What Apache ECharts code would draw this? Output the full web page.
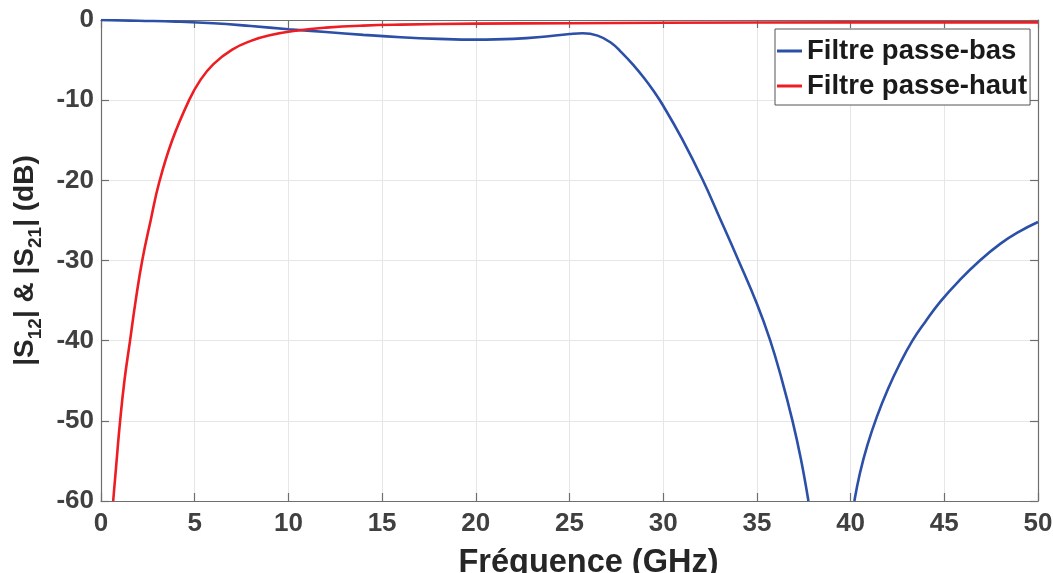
<!DOCTYPE html>
<html>
<head>
<meta charset="utf-8">
<script src="https://cdn.jsdelivr.net/npm/echarts@6/dist/echarts.min.js"></script>
<style>html,body{margin:0;padding:0;background:#fff;}#c{width:1053px;height:573px;}</style>
</head>
<body>
<div id="c"></div>
<script>
// Frequency ticks (GHz) and dB ticks
const xTicks = [0, 5, 10, 15, 20, 25, 30, 35, 40, 45, 50];
const yTicks = [-60, -50, -40, -30, -20, -10, 0];

// Low-pass filter, first branch (before the notch)
const lpX1 = [0, 2, 4, 6, 8, 10, 12, 14, 16, 18, 20, 22, 24, 25, 25.7, 26.5, 27.2, 27.8, 28.4, 29.0, 29.5, 30.0, 31.0, 32.1, 33.0, 34.0, 35.0, 35.7, 36.3, 36.9, 37.35, 37.75];
const lpY1 = [0, -0.1, -0.2, -0.4, -0.75, -1.15, -1.5, -1.85, -2.15, -2.35, -2.45, -2.35, -2.0, -1.75, -1.65, -1.95, -2.8, -4.1, -5.6, -7.3, -8.9, -10.7, -14.8, -19.9, -24.6, -29.9, -35.4, -39.9, -44.6, -50.0, -54.8, -60];
// Low-pass filter, second branch (after the notch)
const lpX2 = [40.2, 40.5, 40.9, 41.4, 42.0, 42.6, 43.3, 44.0, 44.8, 45.8, 46.9, 48.0, 49.0, 50];
const lpY2 = [-60, -56.5, -53, -49.5, -46, -43, -40, -37.6, -35.1, -32.5, -30.0, -27.9, -26.4, -25.2];

// High-pass filter
const hpX = [0.65, 0.85, 1.0, 1.25, 1.55, 1.85, 2.2, 2.65, 3.1, 3.8, 4.7, 5.3, 6.0, 7.0, 8.0, 9.0, 10.5, 12, 14, 16, 20, 25, 30, 40, 50];
const hpY = [-60, -54.5, -50.5, -45, -40, -35, -30, -25, -20.3, -15, -10, -7.5, -5.5, -3.7, -2.6, -1.9, -1.3, -0.95, -0.7, -0.58, -0.45, -0.4, -0.35, -0.3, -0.3];

const seriesNames = ['Filtre passe-bas', 'Filtre passe-haut'];
const FONT = '"Liberation Sans", Arial, sans-serif';

const zip = (xs, ys) => xs.map((x, i) => [x, ys[i]]);

const chart = echarts.init(document.getElementById('c'), null, {renderer: 'canvas'});
const axisLineStyle = {color: '#6e6e6e', width: 1.2};
const lineCommon = {type: 'line', smooth: 0.45, showSymbol: false, symbol: 'none', clip: true};
chart.setOption({
  animation: false,
  backgroundColor: '#fff',
  grid: {left: 101, right: 15, top: 20, bottom: 72, containLabel: false, outerBoundsMode: 'none'},
  legend: {
    data: seriesNames,
    orient: 'vertical',
    left: 775, top: 29,
    padding: [7, 3, 4, 2],
    itemGap: 5,
    itemWidth: 25, itemHeight: 3,
    icon: 'rect',
    backgroundColor: '#fff',
    borderColor: '#555', borderWidth: 1,
    textStyle: {fontFamily: FONT, fontSize: 27.5, fontWeight: 'bold', color: '#1a1a1a', lineHeight: 30}
  },
  xAxis: [{
    type: 'value', min: xTicks[0], max: xTicks[xTicks.length - 1], interval: xTicks[1] - xTicks[0],
    position: 'bottom',
    name: 'Fréquence (GHz)', nameLocation: 'middle', nameGap: 46,
    nameTextStyle: {fontFamily: FONT, fontSize: 32.5, fontWeight: 'bold', color: '#262626', padding: [0, 0, 0, 38]},
    axisLine: {show: true, onZero: false, lineStyle: axisLineStyle},
    axisTick: {show: true, inside: true, length: 8, lineStyle: axisLineStyle},
    axisLabel: {fontFamily: FONT, fontSize: 26, fontWeight: 'bold', color: '#404040', margin: 10},
    splitLine: {show: true, lineStyle: {color: '#e6e6e6', width: 1}}
  }, {
    type: 'value', min: xTicks[0], max: xTicks[xTicks.length - 1], interval: xTicks[1] - xTicks[0],
    position: 'top',
    axisLine: {show: true, onZero: false, lineStyle: axisLineStyle},
    axisTick: {show: true, inside: true, length: 8, lineStyle: axisLineStyle},
    axisLabel: {show: false},
    splitLine: {show: false}
  }],
  yAxis: [{
    type: 'value', min: yTicks[0], max: yTicks[yTicks.length - 1], interval: yTicks[1] - yTicks[0],
    position: 'left',
    name: '{m||S}{s|12}{m|| & |S}{s|21}{m|| (dB)}',
    nameLocation: 'middle', nameRotate: 90, nameGap: 53,
    nameTextStyle: {
      fontFamily: FONT, fontWeight: 'bold', color: '#262626',
      rich: {
        m: {fontFamily: FONT, fontSize: 28, fontWeight: 'bold', color: '#262626', lineHeight: 40, verticalAlign: 'middle'},
        s: {fontFamily: FONT, fontSize: 19, fontWeight: 'bold', color: '#262626', lineHeight: 19, verticalAlign: 'bottom'}
      }
    },
    axisLine: {show: true, onZero: false, lineStyle: axisLineStyle},
    axisTick: {show: true, inside: true, length: 8, lineStyle: axisLineStyle},
    axisLabel: {fontFamily: FONT, fontSize: 26, fontWeight: 'bold', color: '#404040', margin: 7},
    splitLine: {show: true, lineStyle: {color: '#e6e6e6', width: 1}}
  }, {
    type: 'value', min: yTicks[0], max: yTicks[yTicks.length - 1], interval: yTicks[1] - yTicks[0],
    position: 'right',
    axisLine: {show: true, onZero: false, lineStyle: axisLineStyle},
    axisTick: {show: true, inside: true, length: 8, lineStyle: axisLineStyle},
    axisLabel: {show: false},
    splitLine: {show: false}
  }],
  series: [Object.assign({}, lineCommon, {
    name: seriesNames[0], data: zip(lpX1, lpY1),
    lineStyle: {color: '#2c4fa7', width: 2.6}, itemStyle: {color: '#2c4fa7'}, z: 3
  }), Object.assign({}, lineCommon, {
    name: seriesNames[0], data: zip(lpX2, lpY2),
    lineStyle: {color: '#2c4fa7', width: 2.6}, itemStyle: {color: '#2c4fa7'}, z: 3
  }), Object.assign({}, lineCommon, {
    name: seriesNames[1], data: zip(hpX, hpY),
    lineStyle: {color: '#ee1d23', width: 2.6}, itemStyle: {color: '#ee1d23'}, z: 4
  })]
});
</script>
</body>
</html>
